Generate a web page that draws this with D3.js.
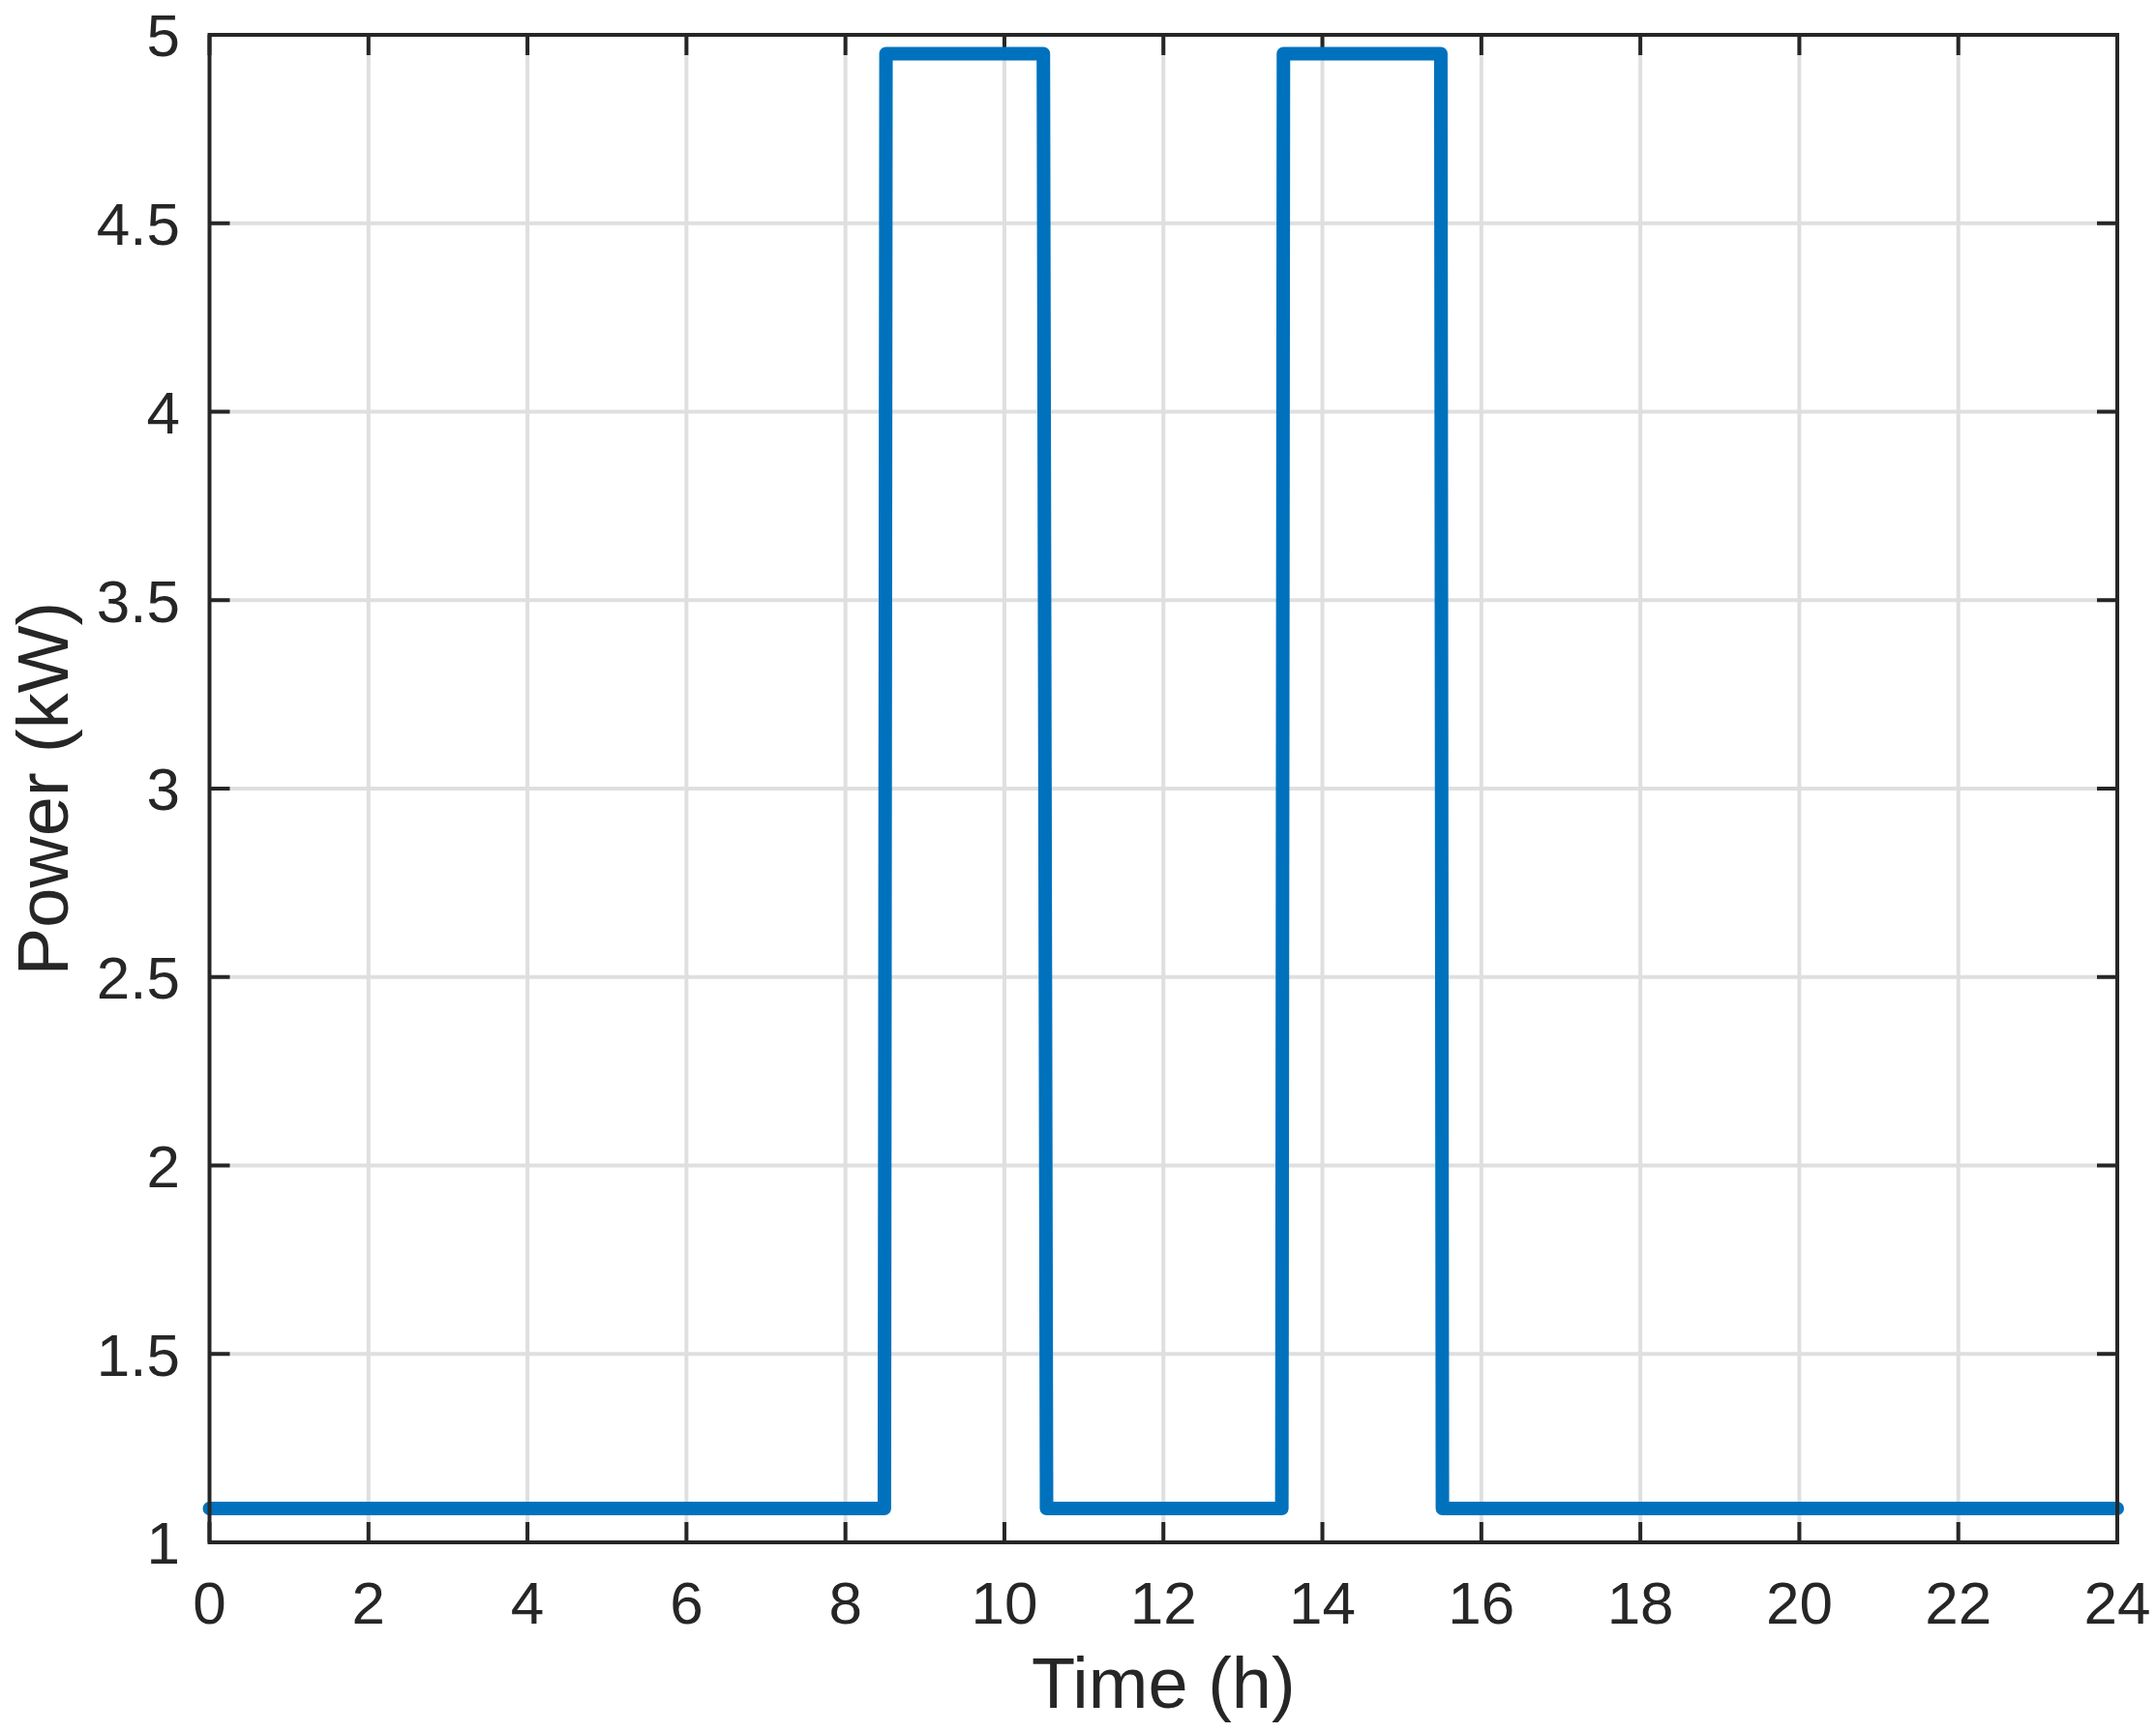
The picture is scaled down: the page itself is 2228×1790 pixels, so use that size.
<!DOCTYPE html>
<html>
<head>
<meta charset="UTF-8">
<title>Power profile</title>
<script src="https://d3js.org/d3.v7.min.js"></script>
<style>
  body { margin: 0; background: #fff; }
  svg text { font-family: "Liberation Sans", Arial, Helvetica, sans-serif; fill: #262626; }
</style>
</head>
<body>
<svg width="2228" height="1790"></svg>
<script>
// data
var timeH  = [0, 8.49, 8.51, 10.49, 10.53, 13.49, 13.51, 15.49, 15.51, 24];
var powerKW = [1.09, 1.09, 4.95, 4.95, 1.09, 1.09, 4.95, 4.95, 1.09, 1.09];
var xTicks = [0, 2, 4, 6, 8, 10, 12, 14, 16, 18, 20, 22, 24];
var yTicks = [1, 1.5, 2, 2.5, 3, 3.5, 4, 4.5, 5];

var svg = d3.select("svg");
var pLeft = 216.5, pRight = 2188, pTop = 36, pBottom = 1594;

var x = d3.scaleLinear().domain([0, 24]).range([pLeft, pRight]);
var y = d3.scaleLinear().domain([1, 5]).range([pBottom, pTop]);

// grid
svg.append("g").selectAll("line")
  .data(xTicks.slice(1, -1))
  .enter().append("line")
    .attr("x1", function(d) { return x(d); })
    .attr("x2", function(d) { return x(d); })
    .attr("y1", pTop).attr("y2", pBottom)
    .attr("stroke", "#dfdfdf").attr("stroke-width", 4);

svg.append("g").selectAll("line")
  .data(yTicks.slice(1, -1))
  .enter().append("line")
    .attr("y1", function(d) { return y(d); })
    .attr("y2", function(d) { return y(d); })
    .attr("x1", pLeft).attr("x2", pRight)
    .attr("stroke", "#dfdfdf").attr("stroke-width", 4);

// ticks (inside, all four sides)
var tl = 21;
var tk = svg.append("g").attr("stroke", "#262626").attr("stroke-width", 4);
xTicks.forEach(function(d) {
  tk.append("line").attr("x1", x(d)).attr("x2", x(d)).attr("y1", pBottom).attr("y2", pBottom - tl);
  tk.append("line").attr("x1", x(d)).attr("x2", x(d)).attr("y1", pTop).attr("y2", pTop + tl);
});
yTicks.forEach(function(d) {
  tk.append("line").attr("y1", y(d)).attr("y2", y(d)).attr("x1", pLeft).attr("x2", pLeft + tl);
  tk.append("line").attr("y1", y(d)).attr("y2", y(d)).attr("x1", pRight).attr("x2", pRight - tl);
});

// line
var line = d3.line()
  .x(function(d, i) { return x(timeH[i]); })
  .y(function(d) { return y(d); });

svg.append("path")
  .datum(powerKW)
  .attr("d", line)
  .attr("fill", "none")
  .attr("stroke", "#0072bd")
  .attr("stroke-width", 14)
  .attr("stroke-linejoin", "round")
  .attr("stroke-linecap", "round");

// box
svg.append("rect")
  .attr("x", pLeft).attr("y", pTop)
  .attr("width", pRight - pLeft).attr("height", pBottom - pTop)
  .attr("fill", "none").attr("stroke", "#262626").attr("stroke-width", 4);

// tick labels
svg.append("g").selectAll("text")
  .data(xTicks)
  .enter().append("text")
    .attr("x", function(d) { return x(d); })
    .attr("y", 1678)
    .attr("text-anchor", "middle")
    .attr("font-size", 62)
    .text(function(d) { return d; });

svg.append("g").selectAll("text")
  .data(yTicks)
  .enter().append("text")
    .attr("x", 186)
    .attr("y", function(d) { return y(d); })
    .attr("dy", "0.36em")
    .attr("text-anchor", "end")
    .attr("font-size", 62)
    .text(function(d) { return d; });

// axis titles
svg.append("text")
  .attr("x", (pLeft + pRight) / 2)
  .attr("y", 1765)
  .attr("text-anchor", "middle")
  .attr("font-size", 74)
  .text("Time (h)");

svg.append("text")
  .attr("transform", "translate(70," + (pTop + pBottom) / 2 + ") rotate(-90)")
  .attr("text-anchor", "middle")
  .attr("font-size", 74)
  .text("Power (kW)");
</script>
</body>
</html>
